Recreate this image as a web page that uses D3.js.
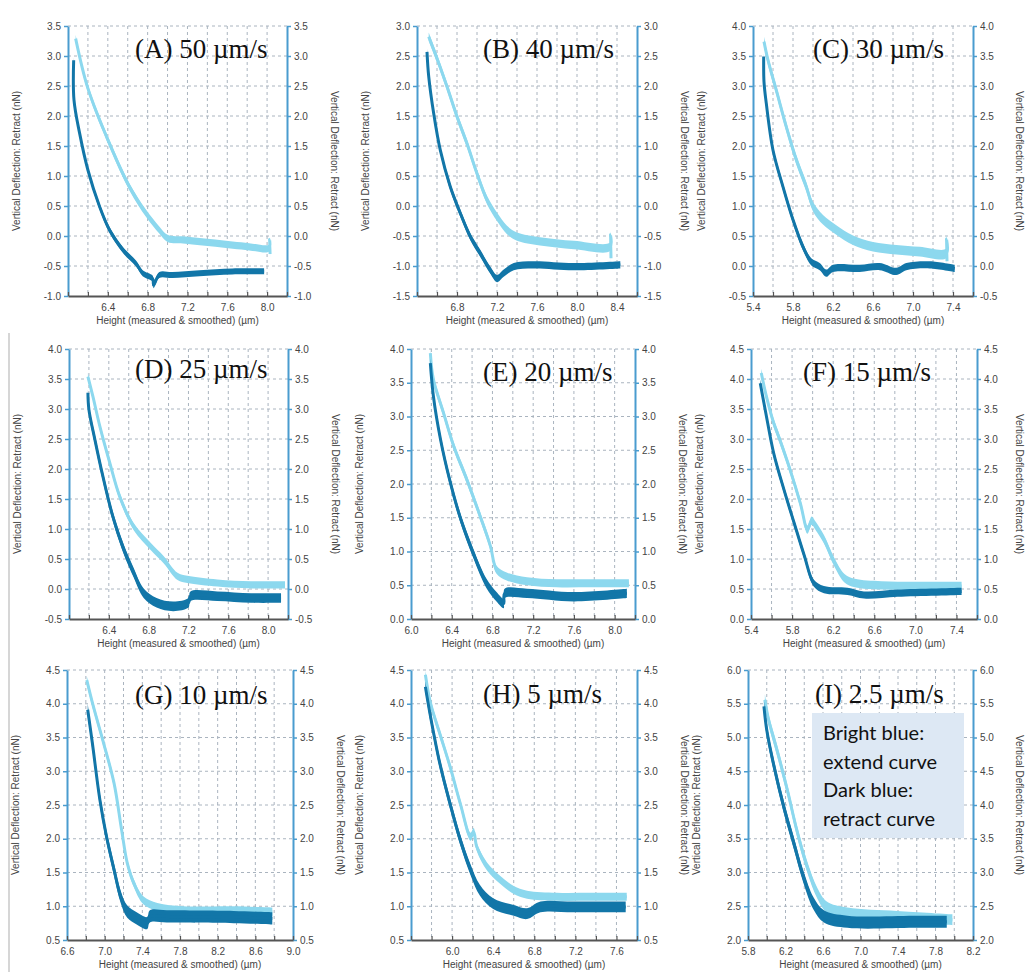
<!DOCTYPE html>
<html>
<head>
<meta charset="utf-8">
<script src="https://cdn.jsdelivr.net/npm/d3@7"></script>
<style>
  body { margin: 0; background: #fff; }
  svg { display: block; }
</style>
</head>
<body>
<div id="chart"></div>
<script>
// force curves, 9 approach speeds

const panelLabels = ["(A) 50 µm/s", "(B) 40 µm/s", "(C) 30 µm/s",
                     "(D) 25 µm/s", "(E) 20 µm/s", "(F) 15 µm/s",
                     "(G) 10 µm/s", "(H) 5 µm/s", "(I) 2.5 µm/s"];

const xDomains = [[6.0, 8.2], [6.4, 8.6], [5.4, 7.6],
                  [6.0, 8.2], [6.0, 8.2], [5.4, 7.6],
                  [6.6, 9.0], [5.6, 7.8], [5.8, 8.2]];

const yDomains = [[-1.0, 3.5], [-1.5, 3.0], [-0.5, 4.0],
                  [-0.5, 4.0], [0.0, 4.0], [0.0, 4.5],
                  [0.5, 4.5], [0.5, 4.5], [2.0, 6.0]];

const xTickLabels = [[6.4, 6.8, 7.2, 7.6, 8.0],
                     [6.8, 7.2, 7.6, 8.0, 8.4],
                     [5.4, 5.8, 6.2, 6.6, 7.0, 7.4],
                     [6.4, 6.8, 7.2, 7.6, 8.0],
                     [6.0, 6.4, 6.8, 7.2, 7.6, 8.0],
                     [5.4, 5.8, 6.2, 6.6, 7.0, 7.4],
                     [6.6, 7.0, 7.4, 7.8, 8.2, 8.6, 9.0],
                     [6.0, 6.4, 6.8, 7.2, 7.6],
                     [5.8, 6.2, 6.6, 7.0, 7.4, 7.8, 8.2]];

// extend (bright) curves, [height µm, deflection nN]
const extendA = [[6.077,3.29],[6.2,2.46],[6.417,1.54],[6.617,0.82],[6.783,0.38],[6.917,0.1],[7.0,-0.04],[7.18,-0.07],[7.48,-0.12],[7.82,-0.18],[8.02,-0.2],[8.025,-0.06],[8.03,-0.3]];
const extendB = [[6.517,2.82],[6.6,2.46],[6.7,1.99],[6.8,1.49],[6.9,1.04],[7.0,0.54],[7.1,0.1],[7.2,-0.18],[7.3,-0.4],[7.4,-0.51],[7.63,-0.59],[7.97,-0.65],[8.33,-0.68],[8.335,-0.48],[8.34,-0.87]];
const extendC = [[5.51,3.74],[5.55,3.43],[5.633,2.93],[5.733,2.32],[5.833,1.77],[5.933,1.32],[6.0,0.99],[6.1,0.77],[6.233,0.6],[6.4,0.43],[6.6,0.32],[6.833,0.27],[7.067,0.24],[7.333,0.21],[7.335,0.45],[7.34,0.08]];
const extendD = [[6.19,3.54],[6.24,3.21],[6.31,2.71],[6.41,2.1],[6.51,1.54],[6.65,1.04],[6.82,0.71],[6.95,0.49],[7.09,0.21],[7.19,0.16],[7.49,0.1],[7.83,0.07],[8.17,0.07]];
const extendE = [[6.19,3.94],[6.22,3.55],[6.32,3.05],[6.42,2.56],[6.55,2.06],[6.68,1.52],[6.78,1.08],[6.84,0.73],[6.94,0.63],[7.14,0.56],[7.43,0.53],[7.76,0.53],[8.14,0.53]];
const extendF = [[5.5,4.1],[5.55,3.71],[5.62,3.27],[5.68,2.99],[5.78,2.49],[5.88,1.93],[5.95,1.49],[5.99,1.64],[6.03,1.55],[6.11,1.33],[6.21,0.95],[6.31,0.68],[6.41,0.6],[6.67,0.56],[7.0,0.55],[7.45,0.55]];
const extendG = [[6.81,4.35],[6.88,3.96],[6.99,3.41],[7.1,2.82],[7.18,2.13],[7.24,1.64],[7.31,1.34],[7.41,1.09],[7.56,0.99],[7.84,0.94],[8.37,0.94],[8.78,0.92]];
const extendH = [[5.74,4.43],[5.79,4.01],[5.88,3.56],[5.98,3.07],[6.08,2.52],[6.18,2.03],[6.21,2.1],[6.24,1.88],[6.34,1.59],[6.47,1.39],[6.6,1.24],[6.73,1.17],[7.02,1.14],[7.35,1.14],[7.7,1.14]];
const extendI = [[5.98,5.56],[6.02,5.26],[6.11,4.81],[6.22,4.22],[6.32,3.63],[6.43,3.09],[6.54,2.69],[6.64,2.49],[6.86,2.4],[7.39,2.35],[7.98,2.3]];

// retract (dark) curves
const retractA = [[6.057,2.93],[6.06,2.27],[6.117,1.71],[6.2,1.1],[6.317,0.49],[6.417,0.1],[6.55,-0.23],[6.683,-0.46],[6.75,-0.62],[6.85,-0.71],[6.86,-0.82],[6.917,-0.65],[7.05,-0.65],[7.32,-0.62],[7.65,-0.59],[7.97,-0.59]];
const retractB = [[6.5,2.57],[6.517,2.16],[6.567,1.54],[6.633,0.93],[6.733,0.32],[6.833,-0.12],[6.933,-0.51],[7.033,-0.79],[7.133,-1.07],[7.2,-1.21],[7.267,-1.12],[7.367,-1.01],[7.567,-0.98],[7.967,-1.01],[8.433,-0.98]];
const retractC = [[5.507,3.49],[5.51,3.07],[5.533,2.71],[5.6,1.93],[5.7,1.32],[5.8,0.77],[5.9,0.32],[5.983,0.07],[6.067,-0.01],[6.133,-0.12],[6.2,-0.04],[6.467,-0.04],[6.667,-0.01],[6.833,-0.09],[6.933,-0.01],[7.167,0.02],[7.417,-0.04]];
const retractD = [[6.19,3.27],[6.2,2.99],[6.26,2.49],[6.34,1.88],[6.44,1.21],[6.55,0.66],[6.65,0.27],[6.75,-0.07],[6.88,-0.23],[7.05,-0.29],[7.2,-0.23],[7.22,-0.12],[7.49,-0.12],[7.83,-0.15],[8.13,-0.15]];
const retractE = [[6.19,3.79],[6.22,3.3],[6.29,2.66],[6.38,2.06],[6.48,1.52],[6.61,0.98],[6.74,0.53],[6.84,0.33],[6.91,0.23],[6.92,0.38],[7.14,0.38],[7.6,0.33],[8.12,0.38]];
const retractF = [[5.49,3.93],[5.55,3.38],[5.62,2.77],[5.72,2.16],[5.82,1.6],[5.92,1.05],[6.01,0.6],[6.11,0.49],[6.34,0.46],[6.5,0.4],[6.83,0.43],[7.45,0.46]];
const retractG = [[6.82,3.91],[6.87,3.41],[6.95,2.57],[7.02,2.03],[7.1,1.54],[7.17,1.14],[7.24,0.92],[7.34,0.82],[7.45,0.75],[7.48,0.85],[7.66,0.85],[8.37,0.84],[8.78,0.82]];
const retractH = [[5.74,4.25],[5.79,3.81],[5.88,3.12],[5.98,2.52],[6.08,1.98],[6.18,1.54],[6.27,1.24],[6.4,1.04],[6.6,0.94],[6.73,0.89],[6.86,0.99],[7.18,0.99],[7.69,0.99]];
const retractI = [[5.97,5.46],[6.0,5.11],[6.07,4.62],[6.18,3.98],[6.29,3.43],[6.39,2.94],[6.5,2.54],[6.61,2.35],[6.86,2.27],[7.57,2.27],[7.92,2.27]];

// half width of the noise band (nN)
const extendNoise  = [0.06, 0.07, 0.08, 0.06, 0.06, 0.07, 0.06, 0.06, 0.08];
const retractNoise = [0.05, 0.06, 0.06, 0.08, 0.07, 0.06, 0.09, 0.08, 0.09];

const legendLines = ["Bright blue:", "extend curve", "Dark blue:", "retract curve"];

const extendCurves = [extendA, extendB, extendC, extendD, extendE, extendF, extendG, extendH, extendI];
const retractCurves = [retractA, retractB, retractC, retractD, retractE, retractF, retractG, retractH, retractI];

// plot boxes [left, right, top, bottom] and label offset
const boxes = [[68, 287, 26, 296, 67, 32], [417, 637, 26, 296, 66, 32], [753, 973, 26, 296, 60, 32],
               [69, 288, 349, 619, 66, 29], [411, 635, 349, 619, 72, 32], [751, 977, 349, 619, 52, 32],
               [67, 293, 670, 940, 68, 34], [411, 637, 670, 940, 72, 33], [748, 973, 670, 940, 67, 33]];

const WIDTH = 1025, HEIGHT = 972;
const LIGHT = "#8cd8ee", DARK = "#1276a8", AXIS_BLUE = "#4a9ccf", GRID = "#aab4bf";
const TEXT = "#444";
const fmt = v => v.toFixed(1);

const svg = d3.select("#chart").append("svg")
    .attr("width", WIDTH)
    .attr("height", HEIGHT);

// collage separator on the left of rows 2 and 3
svg.append("line")
    .attr("x1", 9).attr("x2", 9)
    .attr("y1", 333).attr("y2", HEIGHT)
    .attr("stroke", "#c8c8c8")
    .attr("stroke-width", 1.5);

panelLabels.forEach((label, i) => {
    const [L, R, T, B, lx, ly] = boxes[i];
    const x = d3.scaleLinear().domain(xDomains[i]).range([L, R]);
    const y = d3.scaleLinear().domain(yDomains[i]).range([B, T]);
    const g = svg.append("g");

    const yTicks = d3.range(yDomains[i][0], yDomains[i][1] + 1e-6, 0.5).map(v => Math.round(v * 10) / 10);
    const xMinor = d3.range(xDomains[i][0], xDomains[i][1] + 1e-6, 0.2).map(v => Math.round(v * 10) / 10);

    // dashed grid
    g.append("g").selectAll("line")
        .data(yTicks.filter(v => v > yDomains[i][0]))
        .join("line")
        .attr("x1", L).attr("x2", R)
        .attr("y1", d => y(d)).attr("y2", d => y(d))
        .attr("stroke", GRID).attr("stroke-width", 1)
        .attr("stroke-dasharray", "3,3");
    g.append("g").selectAll("line")
        .data(xMinor.filter(v => v > xDomains[i][0] + 1e-6 && v < xDomains[i][1] - 1e-6))
        .join("line")
        .attr("x1", d => x(d)).attr("x2", d => x(d))
        .attr("y1", T).attr("y2", B)
        .attr("stroke", GRID).attr("stroke-width", 1)
        .attr("stroke-dasharray", "3,3");

    // curves: noise band + centre line
    const smooth = d3.curveCatmullRom.alpha(0.5);
    const drawCurve = (pts, noise, color) => {
        const band = d3.area()
            .curve(smooth)
            .x(d => x(d[0]))
            .y0(d => y(d[1] - noise))
            .y1(d => y(d[1] + noise));
        const line = d3.line()
            .curve(smooth)
            .x(d => x(d[0]))
            .y(d => y(d[1]));
        g.append("path").datum(pts)
            .attr("d", band)
            .attr("fill", color);
        g.append("path").datum(pts)
            .attr("d", line)
            .attr("fill", "none")
            .attr("stroke", color)
            .attr("stroke-width", 3)
            .attr("stroke-linejoin", "round");
    };
    drawCurve(extendCurves[i], extendNoise[i], LIGHT);
    drawCurve(retractCurves[i], retractNoise[i], DARK);

    // axes
    const left = g.append("g")
        .attr("transform", `translate(${L},0)`)
        .call(d3.axisLeft(y).tickValues(yTicks).tickSize(4).tickSizeOuter(0).tickPadding(3).tickFormat(fmt));
    const right = g.append("g")
        .attr("transform", `translate(${R},0)`)
        .call(d3.axisRight(y).tickValues(yTicks).tickSize(4).tickSizeOuter(0).tickPadding(3).tickFormat(fmt));
    [left, right].forEach(a => {
        a.select(".domain").attr("stroke", AXIS_BLUE).attr("stroke-width", 2);
        a.selectAll(".tick line").attr("stroke", AXIS_BLUE).attr("stroke-width", 1.5);
    });

    const labelled = v => xTickLabels[i].some(t => Math.abs(t - v) < 1e-6);
    const bottom = g.append("g")
        .attr("transform", `translate(0,${B})`)
        .call(d3.axisBottom(x).tickValues(xMinor).tickSize(-4).tickSizeOuter(0).tickPadding(8)
            .tickFormat(v => labelled(v) ? fmt(v) : ""));
    bottom.select(".domain").attr("stroke", "#555").attr("stroke-width", 2);
    bottom.selectAll(".tick line").attr("stroke", "#555").attr("stroke-width", 1.2);

    g.selectAll(".tick text")
        .attr("fill", TEXT)
        .attr("font-family", "Liberation Sans, Arial, sans-serif")
        .attr("font-size", 10);

    // axis titles
    g.append("text")
        .attr("transform", `translate(${L - 48},${(T + B) / 2}) rotate(-90)`)
        .attr("text-anchor", "middle")
        .attr("font-family", "Liberation Sans, Arial, sans-serif")
        .attr("font-size", 10)
        .attr("fill", TEXT)
        .text("Vertical Deflection: Retract (nN)");
    g.append("text")
        .attr("transform", `translate(${Math.min(R + 44, WIDTH - 9)},${(T + B) / 2}) rotate(90)`)
        .attr("text-anchor", "middle")
        .attr("font-family", "Liberation Sans, Arial, sans-serif")
        .attr("font-size", 10)
        .attr("fill", TEXT)
        .text("Vertical Deflection: Retract (nN)");
    g.append("text")
        .attr("x", (L + R) / 2)
        .attr("y", B + 28)
        .attr("text-anchor", "middle")
        .attr("font-family", "Liberation Sans, Arial, sans-serif")
        .attr("font-size", 10)
        .attr("fill", TEXT)
        .text("Height (measured & smoothed) (µm)");

    // panel label
    g.append("text")
        .attr("x", L + lx)
        .attr("y", T + ly)
        .attr("font-family", "Liberation Serif, Times New Roman, serif")
        .attr("font-size", 27)
        .attr("fill", "#111")
        .text(label);

    // legend box in the last panel
    if (i === 8) {
        svg.append("rect")
            .attr("x", 812).attr("y", 713)
            .attr("width", 152).attr("height", 125)
            .attr("fill", "#dde8f4");
        svg.append("g").selectAll("text")
            .data(legendLines)
            .join("text")
            .attr("x", 823)
            .attr("y", (d, k) => 740 + k * 28.5)
            .attr("font-family", "Lato, Carlito, sans-serif")
            .attr("font-size", 20)
            .attr("fill", "#111")
            .text(d => d);
    }
});
</script>
</body>
</html>
